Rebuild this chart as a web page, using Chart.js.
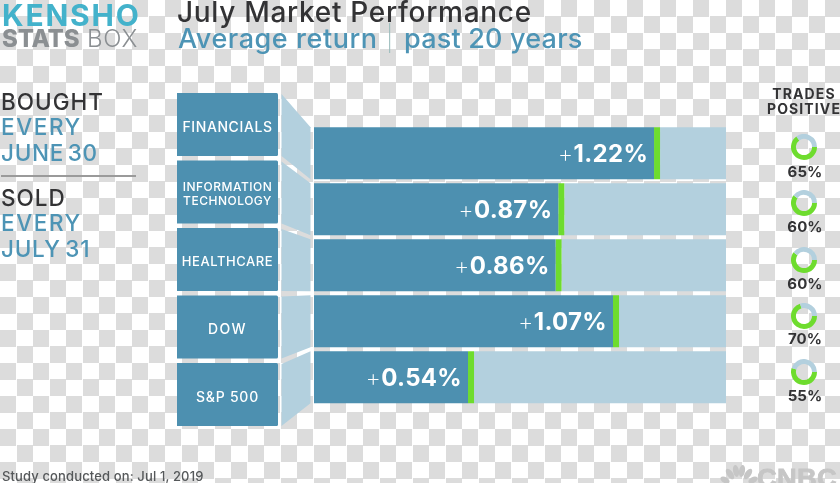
<!DOCTYPE html>
<html><head><meta charset="utf-8">
<script src="https://cdn.jsdelivr.net/npm/chart.js@4/dist/chart.umd.min.js"></script>
<style>
html,body{margin:0;padding:0;width:840px;height:483px;overflow:hidden}
body{position:relative;font-family:Inter,"Noto Sans",sans-serif;background:repeating-conic-gradient(#fff 0 25%,#dcdcdc 0 50%) 0 0/33px 33px}
canvas{position:absolute;left:0;top:0}
.t{position:absolute;white-space:nowrap;line-height:1}
.dark{color:#333335}.blue{color:#4d94b5}
.side{font-size:22.5px;font-weight:500;letter-spacing:1px;left:1px}
.pct{font-size:15px;font-weight:700;color:#333335;width:50px;text-align:center;left:780px;letter-spacing:.1px}
</style></head><body>
<canvas id="boxes" width="840" height="483"></canvas>
<canvas id="bars" width="840" height="483"></canvas>

<div class="t" style="left:2px;top:0;font-size:30px;font-weight:700;color:#43b2cb;letter-spacing:1.8px">KENSHO</div>
<div class="t" style="left:2px;top:27px;font-size:24px;font-weight:800;color:#8b8f92;letter-spacing:-.2px">STATS</div>
<div class="t" style="left:87px;top:27px;font-size:24px;font-weight:300;color:#8b8f92;letter-spacing:.7px">BOX</div>

<div class="t dark" style="left:177px;top:-2px;font-size:28px;font-weight:500;letter-spacing:.7px">July Market Performance</div>
<div class="t blue" style="left:178px;top:25px;font-size:27px;font-weight:500;letter-spacing:.55px">Average return</div>
<div class="t" style="left:386px;top:26px;font-size:25px;font-weight:200;color:#9bb;">|</div>
<div class="t blue" style="left:404px;top:25px;font-size:27px;font-weight:500;letter-spacing:.2px">past 20 years</div>

<div class="t side dark" style="top:91px">BOUGHT</div>
<div class="t side blue" style="top:116px;letter-spacing:1.6px">EVERY</div>
<div class="t side blue" style="top:142px;word-spacing:-3px;letter-spacing:.7px">JUNE 30</div>
<div style="position:absolute;left:1px;top:175px;width:135px;height:1.5px;background:#9a9a9a"></div>
<div class="t side dark" style="top:187px">SOLD</div>
<div class="t side blue" style="top:212px;letter-spacing:1.6px">EVERY</div>
<div class="t side blue" style="top:238px;word-spacing:-2px;letter-spacing:.7px">JULY 31</div>

<div class="t" style="left:754px;width:100px;text-align:center;top:86px;font-size:14px;font-weight:700;color:#333335;letter-spacing:1.1px;line-height:15px">TRADES<br>POSITIVE</div>

<div class="t" style="left:2px;top:470px;font-size:13px;font-weight:500;color:#55585a;letter-spacing:.13px">Study conducted on: Jul 1, 2019</div>

<svg style="position:absolute;left:720px;top:463px" width="38" height="20" viewBox="0 0 38 20">
<g fill="#c6c6c6"><ellipse cx="5" cy="17" rx="3" ry="5" transform="rotate(-60 5 17)"/><ellipse cx="10" cy="11" rx="3" ry="6" transform="rotate(-35 10 11)"/><ellipse cx="16" cy="8" rx="3" ry="6" transform="rotate(-10 16 8)"/><ellipse cx="22" cy="8" rx="3" ry="6" transform="rotate(10 22 8)"/><ellipse cx="28" cy="11" rx="3" ry="6" transform="rotate(35 28 11)"/><ellipse cx="33" cy="17" rx="3" ry="5" transform="rotate(60 33 17)"/></g></svg>
<div class="t" style="left:757px;top:465px;font-family:'Liberation Sans';font-size:26px;font-weight:700;color:#c6c6c6;letter-spacing:.3px;-webkit-text-stroke:.8px #c6c6c6;transform-origin:left top;transform:scaleX(1.05)">CNBC</div>

<script>
// Data
const categories = [["FINANCIALS"],["INFORMATION","TECHNOLOGY"],["HEALTHCARE"],["DOW"],["S&P 500"]];
const returns = [1.22,0.87,0.86,1.07,0.54];
const tradesPositive = [65,60,60,70,55];
const tradesNegative = [35,40,40,30,45];
const axisMin = -0.023, axisMax = 1.483, tipWidth = 0.022;
const boxFill = [1,1,1,1,1];

const BLUE='#4d90b0', LIGHT='#b3d0de', GREEN='#6edc2e';
const catNames = categories.map(c=>c.join(' '));
const boxSizes = [14,12,13,14,14];
const boxLetterSpacing = ['0.6px','0.5px','0.55px','1.4px','0.75px'];

const boxLabels = {id:'boxLabels',afterDatasetsDraw(c){
  const ctx=c.ctx, m=c.getDatasetMeta(0);
  ctx.save();ctx.fillStyle='#fff';ctx.textAlign='center';ctx.textBaseline='middle';
  m.data.forEach((el,i)=>{
    const lines=categories[i], cx=(el.base+el.x)/2;
    ctx.font='500 '+boxSizes[i]+'px Inter';
    ctx.letterSpacing=boxLetterSpacing[i];
    const dy=lines.length>1?2:3;
    lines.forEach((ln,j)=>ctx.fillText(ln,cx,el.y+dy+(j-(lines.length-1)/2)*14));
  });
  ctx.restore();
}};

const boxChart = new Chart(document.getElementById('boxes'),{
  type:'bar',
  data:{labels:catNames,datasets:[{data:boxFill,backgroundColor:BLUE,borderRadius:1.5,barPercentage:63/67.4,categoryPercentage:1}]},
  options:{indexAxis:'y',responsive:false,animation:false,devicePixelRatio:1,
    layout:{padding:{left:177,right:840-278,top:90.8,bottom:483-428.2}},
    scales:{x:{display:false,min:0,max:1},y:{display:false}},
    plugins:{legend:{display:false},tooltip:{enabled:false}}},
  plugins:[boxLabels]
});

const connectors = {id:'connectors',beforeDatasetsDraw(c){
  const ctx=c.ctx, L=boxChart.getDatasetMeta(0).data, R=c.getDatasetMeta(0).data;
  ctx.save();ctx.fillStyle=LIGHT;
  L.forEach((b,i)=>{
    const r=R[i], x0=b.x+3.5, x1=r.base-3.5;
    ctx.beginPath();
    ctx.moveTo(x0,b.y-b.height/2+1);
    ctx.lineTo(x1,r.y-r.height/2);
    ctx.lineTo(x1,r.y+r.height/2);
    ctx.lineTo(x0,b.y+b.height/2);
    ctx.closePath();ctx.fill();
  });
  ctx.restore();
}};

const valueLabels = {id:'valueLabels',afterDatasetsDraw(c){
  const ctx=c.ctx, m=c.getDatasetMeta(0);
  ctx.save();ctx.fillStyle='#fff';ctx.textBaseline='middle';ctx.textAlign='left';
  m.data.forEach((el,i)=>{
    const num=returns[i].toFixed(2)+'%';
    ctx.font='700 24px Inter';ctx.letterSpacing='0.3px';
    const w=ctx.measureText(num).width, x=el.x-6-w;
    ctx.fillText(num,x,el.y+1);
    ctx.font='200 24px Inter';
    const pw=ctx.measureText('+').width;
    ctx.fillText('+',x-pw,el.y+1);
  });
  ctx.restore();
}};

new Chart(document.getElementById('bars'),{
  type:'bar',
  data:{labels:catNames,datasets:[
    {label:'Average return',data:returns.map(v=>[axisMin,v]),backgroundColor:BLUE,order:1},
    {label:'Marker',data:returns.map(v=>[v,v+tipWidth]),backgroundColor:GREEN,order:2},
    {label:'Scale',data:returns.map(v=>[v+tipWidth,axisMax]),backgroundColor:LIGHT,order:3}
  ]},
  options:{indexAxis:'y',responsive:false,animation:false,devicePixelRatio:1,
    layout:{padding:{left:314,right:840-726,top:125.3,bottom:483-405.3}},
    datasets:{bar:{grouped:false,barPercentage:52/55.9,categoryPercentage:1}},
    scales:{x:{display:false,min:axisMin,max:axisMax},y:{display:false}},
    plugins:{legend:{display:false},tooltip:{enabled:false}}},
  plugins:[connectors,valueLabels]
});

const ringCentres = [147.3,203,260,316,372];
const labelTops = [164,219,276,331,388];
tradesPositive.forEach((p,i)=>{
  const cv=document.createElement('canvas');
  cv.width=26;cv.height=26;
  cv.style.left='791px';cv.style.top=(ringCentres[i]-13)+'px';
  document.body.appendChild(cv);
  new Chart(cv,{type:'doughnut',
    data:{labels:['Positive','Negative'],datasets:[{data:[p,tradesNegative[i]],backgroundColor:[GREEN,LIGHT],borderWidth:0}]},
    options:{responsive:false,animation:false,devicePixelRatio:1,rotation:90,cutout:'62%',
      layout:{padding:0},plugins:{legend:{display:false},tooltip:{enabled:false}}}});
  const d=document.createElement('div');
  d.className='t pct';d.style.top=labelTops[i]+'px';d.textContent=p+'%';
  document.body.appendChild(d);
});
</script>
</body></html>
